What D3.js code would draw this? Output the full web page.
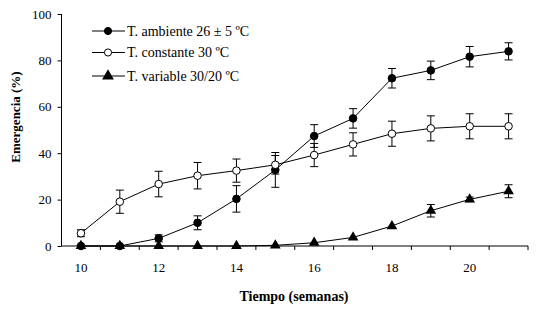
<!DOCTYPE html>
<html>
<head>
<meta charset="utf-8">
<script src="https://cdn.jsdelivr.net/npm/d3@7"></script>
<style>
  body { margin: 0; background: #fff; }
  svg { display: block; }
  text { font-family: "Liberation Serif", "Times New Roman", serif; fill: #000; }
</style>
</head>
<body>
<div id="chart"></div>
<script>
// Data
const weeks = [10, 11, 12, 13, 14, 15, 16, 17, 18, 19, 20, 21]
const tickWeeks = [10, 12, 14, 16, 18, 20]
const yTicks = [0, 20, 40, 60, 80, 100]

const ambiente = [0, 0, 3.3, 10, 20.3, 32.8, 47.4, 55, 72.3, 75.7, 81.6, 83.9]
const ambienteErr = [0, 0, 1.5, 3, 5.7, 7.5, 4.9, 4.2, 4.2, 4, 4.4, 3.7]

const constante = [5.5, 19.1, 26.7, 30.3, 32.5, 35, 39.2, 43.8, 48.4, 50.7, 51.6, 51.6]
const constanteErr = [1.5, 5, 5.5, 5.7, 5, 4, 5, 5, 5.4, 5.4, 5.4, 5.4]

const variable = [0, 0, 0, 0, 0, 0.3, 1.4, 3.7, 8.6, 15.2, 20.1, 23.6]
const variableErr = [0, 0, 0, 0, 0, 0, 0, 0, 0, 2.7, 1, 2.8]

const seriesNames = ["T. ambiente 26 ± 5 ºC", "T. constante 30 ºC", "T. variable 30/20 ºC"]

// chart size
const W = 536, H = 314
const mLeft = 61.5, mRight = 528, mTop = 14, mBottom = 246

const svg = d3.select("#chart").append("svg")
    .attr("width", W)
    .attr("height", H)

const x = d3.scaleBand().domain(weeks).range([mLeft, mRight])
const y = d3.scaleLinear().domain([0, 100]).range([mBottom, mTop])
const cx = d => x(d) + x.bandwidth() / 2

// build series
const series = [
    {name: seriesNames[0], values: ambiente, err: ambienteErr, marker: "fill"},
    {name: seriesNames[1], values: constante, err: constanteErr, marker: "open"},
    {name: seriesNames[2], values: variable, err: variableErr, marker: "tri"}
]

// Y axis
const yAxis = svg.append("g")
    .attr("transform", "translate(" + mLeft + ",0)")
    .call(d3.axisLeft(y).tickValues(yTicks).tickSize(4).tickPadding(6))
yAxis.select(".domain").attr("d", "M0," + mTop + "V" + mBottom)
yAxis.selectAll("text").style("font-size", "13px")

// X axis - ticks at category edges, labels at centres
const xAxis = svg.append("g")
    .attr("transform", "translate(0," + mBottom + ")")
xAxis.append("line")
    .attr("x1", mLeft).attr("x2", mRight)
    .attr("stroke", "#000")
xAxis.selectAll(".tk")
    .data(weeks)
    .join("line")
    .attr("class", "tk")
    .attr("x1", d => x(d) + x.bandwidth())
    .attr("x2", d => x(d) + x.bandwidth())
    .attr("y1", 0).attr("y2", 4)
    .attr("stroke", "#000")
xAxis.selectAll(".lbl")
    .data(tickWeeks)
    .join("text")
    .attr("class", "lbl")
    .attr("x", d => cx(d))
    .attr("y", 26)
    .attr("text-anchor", "middle")
    .style("font-size", "13px")
    .text(d => d)

// lines, error bars, markers
const line = d3.line()
    .x((d, i) => cx(weeks[i]))
    .y(d => y(d))

function marker(g, type, size) {
    if (type === "tri") {
        g.append("path")
            .attr("d", d3.symbol().type(d3.symbolTriangle).size(size * 1.1)())
            .attr("fill", "#000")
    } else {
        g.append("circle")
            .attr("r", Math.sqrt(size / Math.PI))
            .attr("fill", type === "fill" ? "#000" : "#fff")
            .attr("stroke", "#000")
            .attr("stroke-width", 1)
    }
}

series.forEach(function(s) {
    const g = svg.append("g")
    g.append("path")
        .attr("d", line(s.values))
        .attr("fill", "none")
        .attr("stroke", "#000")
        .attr("stroke-width", 1)

    s.values.forEach(function(v, i) {
        const e = s.err[i]
        if (e > 0) {
            const px = cx(weeks[i])
            const y1 = y(v + e), y2 = y(v - e)
            g.append("line").attr("x1", px).attr("x2", px).attr("y1", y1).attr("y2", y2)
                .attr("stroke", "#000")
            g.append("line").attr("x1", px - 4).attr("x2", px + 4).attr("y1", y1).attr("y2", y1)
                .attr("stroke", "#000")
            g.append("line").attr("x1", px - 4).attr("x2", px + 4).attr("y1", y2).attr("y2", y2)
                .attr("stroke", "#000")
        }
    })

    s.values.forEach(function(v, i) {
        const m = g.append("g")
            .attr("transform", "translate(" + cx(weeks[i]) + "," + y(v) + ")")
        marker(m, s.marker, 45)
    })
})

// Legend
const legend = svg.append("g")
legend.selectAll("g")
    .data(series)
    .join("g")
    .attr("transform", (d, i) => "translate(92," + [31, 52.5, 76][i] + ")")
    .each(function(d) {
        const g = d3.select(this)
        g.append("line").attr("x1", 0).attr("x2", 33)
            .attr("stroke", "#000")
        const m = g.append("g").attr("transform", "translate(16,0)")
        marker(m, d.marker, d.marker === "tri" ? 55 : 40)
        g.append("text")
            .attr("x", 35)
            .attr("y", 0)
            .attr("dy", "0.35em")
            .style("font-size", "14px")
            .text(d.name)
    })

// Axis titles
svg.append("text")
    .attr("transform", "translate(20,117) rotate(-90)")
    .attr("text-anchor", "middle")
    .style("font-size", "13px")
    .style("font-weight", "bold")
    .text("Emergencia (%)")

svg.append("text")
    .attr("x", 294)
    .attr("y", 301)
    .attr("text-anchor", "middle")
    .style("font-size", "14px")
    .style("font-weight", "bold")
    .text("Tiempo (semanas)")
</script>
</body>
</html>
